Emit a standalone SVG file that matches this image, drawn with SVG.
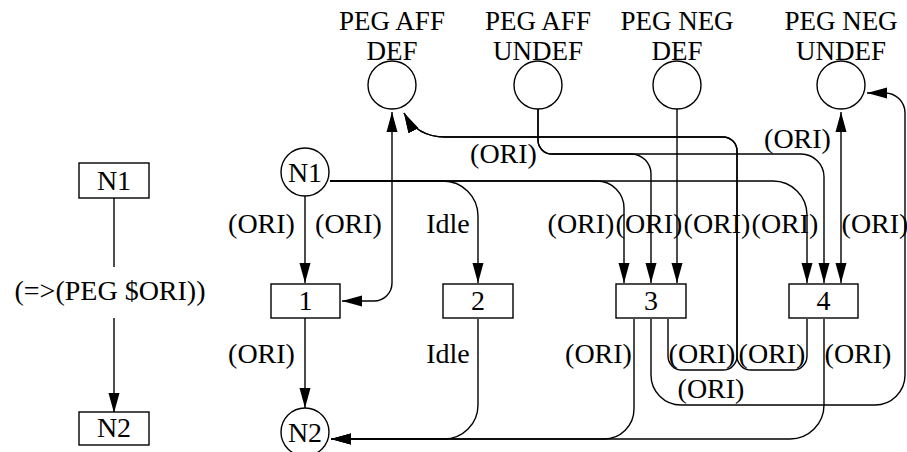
<svg xmlns="http://www.w3.org/2000/svg" width="907" height="452" viewBox="0 0 907 452">
<style>
  .t { font-family: "Liberation Serif", "Times New Roman", serif; font-size: 28px; text-anchor: middle; fill: #000; }
  .h { font-size: 27px; }
  .n { fill: #fff; stroke: #000; stroke-width: 1.4; }
  .e { fill: none; stroke: #000; stroke-width: 1.4; }
</style>
<defs>
  <marker id="ah" markerUnits="userSpaceOnUse" viewBox="0 0 20 12" markerWidth="20" markerHeight="12" refX="20" refY="6" orient="auto-start-reverse">
    <path d="M0,0.5 L20,6 L0,11.5 z" fill="#000"/>
  </marker>
</defs>
<rect width="907" height="452" fill="#fff"/>

<g id="connectors">
  <!-- left legend -->
  <path class="e" d="M114,198 V267"/>
  <path class="e" d="M114,318 V413" marker-end="url(#ah)"/>
  <!-- N1 -> 1 -->
  <path class="e" d="M305,196 V283" marker-end="url(#ah)"/>
  <!-- 1 <-> PEG AFF DEF -->
  <path class="e" d="M342,301 H374 A18,18 0 0 0 392,283 V112" marker-start="url(#ah)" marker-end="url(#ah)"/>
  <!-- 3 -> PEG AFF DEF -->
  <path class="e" d="M668,319 V356 A14,14 0 0 0 682,370 H723 A14,14 0 0 0 737,356 V151 A14,14 0 0 0 723,137 H445 C425,137 412,128 404,113" marker-end="url(#ah)"/>
  <!-- 4 -> PEG AFF DEF -->
  <path class="e" d="M807,319 V356 A14,14 0 0 1 793,370 H751 A14,14 0 0 1 737,356 V151 A14,14 0 0 0 723,137 H445 C425,137 412,128 404,113" marker-end="url(#ah)"/>
  <!-- PEG AFF UNDEF -> 3 -->
  <path class="e" d="M538,109 V140 A14,14 0 0 0 552,154 H631 A20,20 0 0 1 651,174 V283" marker-end="url(#ah)"/>
  <!-- PEG AFF UNDEF -> 4 -->
  <path class="e" d="M538,109 V140 A14,14 0 0 0 552,154 H801 A23,23 0 0 1 824,177 V283" marker-end="url(#ah)"/>
  <!-- N1 -> 2 -->
  <path class="e" d="M330,181 H443 A35,35 0 0 1 478,216 V283" marker-end="url(#ah)"/>
  <!-- N1 -> 3 -->
  <path class="e" d="M330,181 H597 A27,27 0 0 1 624,208 V283" marker-end="url(#ah)"/>
  <!-- N1 -> 4 -->
  <path class="e" d="M330,181 H773 A34,34 0 0 1 807,215 V283" marker-end="url(#ah)"/>
  <!-- PEG NEG DEF -> 3 -->
  <path class="e" d="M677,109 V283" marker-end="url(#ah)"/>
  <!-- PEG NEG UNDEF <-> 4 -->
  <path class="e" d="M841,112 V283" marker-start="url(#ah)" marker-end="url(#ah)"/>
  <!-- 3 -> PEG NEG UNDEF -->
  <path class="e" d="M651,319 V375 A30,30 0 0 0 681,405 H875 A30,30 0 0 0 905,375 V113 A20,20 0 0 0 885,93 H867" marker-end="url(#ah)"/>
  <!-- 1 -> N2 -->
  <path class="e" d="M305,318 V408" marker-end="url(#ah)"/>
  <!-- 2 -> N2 -->
  <path class="e" d="M478,319 V405 A34,34 0 0 1 444,439 H331" marker-end="url(#ah)"/>
  <!-- 3 -> N2 -->
  <path class="e" d="M634,319 V409 A30,30 0 0 1 604,439 H331" marker-end="url(#ah)"/>
  <!-- 4 -> N2 -->
  <path class="e" d="M824,319 V405 A34,34 0 0 1 790,439 H331" marker-end="url(#ah)"/>

  <!-- edge labels -->
  <text class="t" x="110" y="300">(=&gt;(PEG $ORI))</text>
  <text class="t" x="261.5" y="233">(ORI)</text>
  <text class="t" x="348.5" y="233">(ORI)</text>
  <text class="t" x="448" y="233">Idle</text>
  <text class="t" x="581" y="233">(ORI)</text>
  <text class="t" x="649" y="233">(ORI)</text>
  <text class="t" x="717" y="233">(ORI)</text>
  <text class="t" x="785" y="233">(ORI)</text>
  <text class="t" x="875" y="233">(ORI)</text>
  <text class="t" x="503.5" y="163">(ORI)</text>
  <text class="t" x="797.5" y="148">(ORI)</text>
  <text class="t" x="261.5" y="363">(ORI)</text>
  <text class="t" x="448" y="363">Idle</text>
  <text class="t" x="598.5" y="363">(ORI)</text>
  <text class="t" x="702" y="363">(ORI)</text>
  <text class="t" x="772" y="363">(ORI)</text>
  <text class="t" x="858" y="363">(ORI)</text>
  <text class="t" x="711" y="398">(ORI)</text>
</g>

<g id="legend-N1">
  <rect class="n" x="79" y="163" width="70" height="35"/>
  <text class="t" x="114" y="190">N1</text>
</g>
<g id="legend-N2">
  <rect class="n" x="79" y="412" width="70" height="33"/>
  <text class="t" x="114" y="437">N2</text>
</g>

<g id="place-peg-aff-def">
  <text class="t h" x="392" y="30">PEG AFF</text>
  <text class="t h" x="392" y="60">DEF</text>
  <circle class="n" cx="392" cy="85" r="24"/>
</g>
<g id="place-peg-aff-undef">
  <text class="t h" x="538" y="30">PEG AFF</text>
  <text class="t h" x="538" y="60">UNDEF</text>
  <circle class="n" cx="538" cy="85" r="24"/>
</g>
<g id="place-peg-neg-def">
  <text class="t h" x="677" y="30">PEG NEG</text>
  <text class="t h" x="677" y="60">DEF</text>
  <circle class="n" cx="677" cy="85" r="24"/>
</g>
<g id="place-peg-neg-undef">
  <text class="t h" x="841" y="30">PEG NEG</text>
  <text class="t h" x="841" y="60">UNDEF</text>
  <circle class="n" cx="841" cy="85" r="24"/>
</g>

<g id="place-N1">
  <circle class="n" cx="305" cy="172" r="24"/>
  <text class="t" x="305" y="182">N1</text>
</g>
<g id="place-N2">
  <circle class="n" cx="305" cy="432" r="24"/>
  <text class="t" x="305" y="442">N2</text>
</g>

<g id="transition-1">
  <rect class="n" x="271" y="284" width="69" height="34"/>
  <text class="t" x="305.5" y="310">1</text>
</g>
<g id="transition-2">
  <rect class="n" x="443" y="284" width="70" height="34"/>
  <text class="t" x="478" y="310">2</text>
</g>
<g id="transition-3">
  <rect class="n" x="616" y="284" width="70" height="34"/>
  <text class="t" x="651" y="310">3</text>
</g>
<g id="transition-4">
  <rect class="n" x="789" y="284" width="69" height="34"/>
  <text class="t" x="823.5" y="310">4</text>
</g>
</svg>
